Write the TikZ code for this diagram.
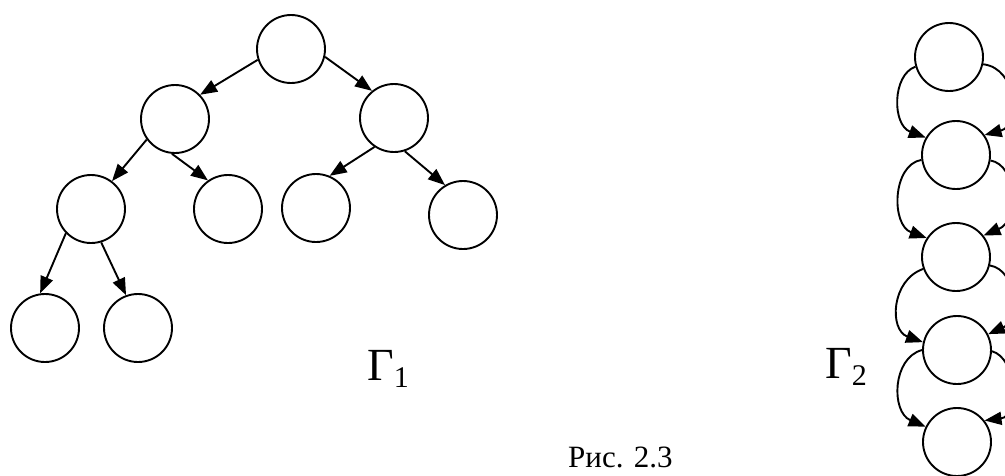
\documentclass[tikz,border=0pt]{standalone}
\usepackage{fontspec}
\setmainfont{Liberation Serif}
\usetikzlibrary{arrows.meta}
\newcommand\Gsub[1]{{\fontsize{46}{46}\selectfont Γ\raisebox{-7pt}{\fontsize{30}{30}\selectfont #1}}}
\begin{document}
\begin{tikzpicture}[x=1pt,y=-1pt,
  vert/.style={circle,draw,line width=1.9pt,minimum size=68pt,inner sep=0pt},
  arr/.style={line width=1.9pt,-{Triangle[length=17pt,width=13pt]}},
  lbl/.style={inner sep=0pt,anchor=base west}]
\useasboundingbox (0,0) rectangle (1005,475);
\clip (0,0) rectangle (1005,475);
% tree Gamma_1
\node[vert] (root) at (291,49) {};
\node[vert] (l1) at (175,119) {};
\node[vert] (r1) at (394,118) {};
\node[vert] (l2a) at (91,209) {};
\node[vert] (l2b) at (228,209) {};
\node[vert] (r2a) at (316,208) {};
\node[vert] (r2b) at (463,215) {};
\node[vert] (l3a) at (45,328) {};
\node[vert] (l3b) at (138,328) {};
\draw[arr] (root.198) -- (l1.44);
\draw[arr] (root.-13) -- (r1.129);
\draw[arr] (l1.216) -- (l2a.53);
\draw[arr] (l1.-95) -- (l2b.125);
\draw[arr] (r1.-124) -- (r2a.67);
\draw[arr] (r1.-72) -- (r2b.121);
\draw[arr] (l2a.-136) -- (l3a.98);
\draw[arr] (l2a.-73) -- (l3b.110);
\node[lbl] (g1) at (367,380) {\Gsub{1}};
% chain Gamma_2
\node[vert] (c1) at (949,57) {};
\node[vert] (c2) at (956,155) {};
\node[vert] (c3) at (956,257) {};
\node[vert] (c4) at (957,350) {};
\node[vert] (c5) at (957,442) {};
\draw[arr] (c1.196) .. controls (892,75) and (892,125) .. (c2.150);
\draw[arr] (c2.188) .. controls (892,165) and (891,225) .. (c3.147);
\draw[arr] (c3.200) .. controls (891,280) and (889,330) .. (c4.167);
\draw[arr] (c4.180) .. controls (892,358) and (891,412) .. (c5.154);
\draw[arr] (c1.-12) .. controls (1017,68) and (1022,125) .. (c2.35);
\draw[arr] (c2.-9) .. controls (1017,165) and (1020,220) .. (c3.38);
\draw[arr] (c3.-14) .. controls (1017,270) and (1020,320) .. (c4.27);
\draw[arr] (c4.-2) .. controls (1017,358) and (1020,416) .. (c5.38);
\node[lbl] (g2) at (825,378) {\Gsub{2}};
% caption
\node[lbl] (cap) at (568,467) {\fontsize{31}{31}\selectfont Рис. 2.3};
\end{tikzpicture}
\end{document}
